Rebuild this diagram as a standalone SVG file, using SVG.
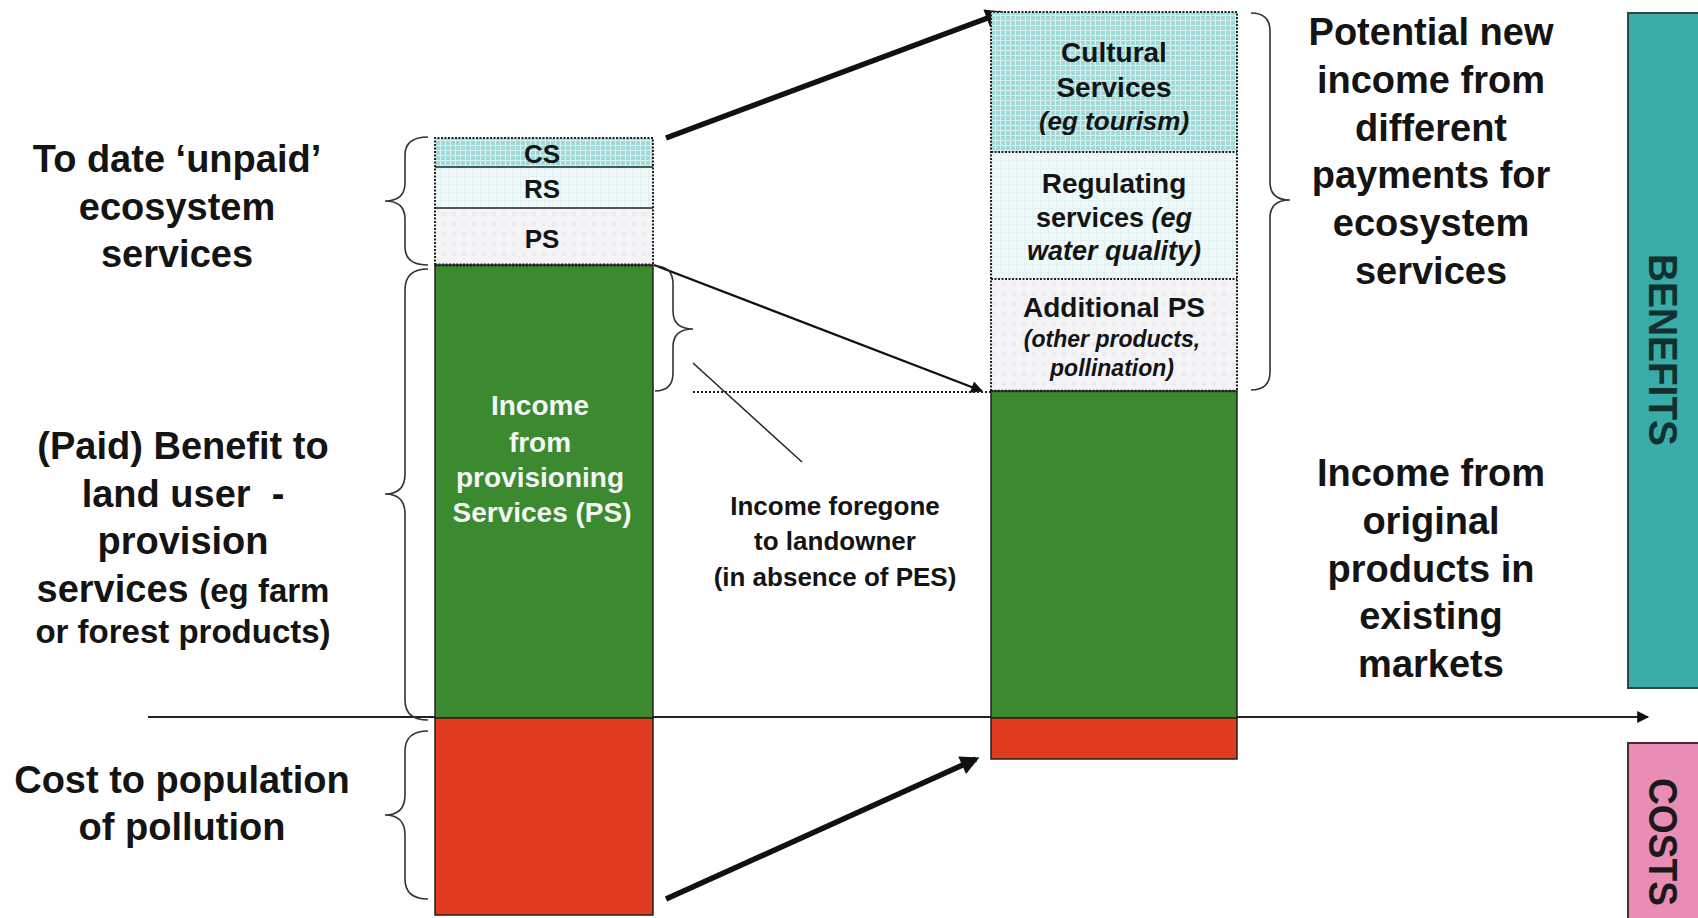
<svg xmlns="http://www.w3.org/2000/svg" width="1698" height="918" viewBox="0 0 1698 918">
<defs>
<style>
.t{font-family:"Liberation Sans",Arial,sans-serif;font-weight:bold;fill:#141414;text-anchor:middle}
.big{font-size:38px}
.mid{font-size:28px}
.it{font-style:italic}
.brace{fill:none;stroke:#333;stroke-width:1.6}
.dash{stroke:#222;stroke-width:2;stroke-dasharray:2 1.5}
.solid{stroke:#222;stroke-width:1.5}
</style>
<pattern id="pCS" width="5" height="5" patternUnits="userSpaceOnUse">
<rect width="5" height="5" fill="#9fd9d8"/>
<path d="M0 0.5H5M0.5 0V5" stroke="#d9f1f1" stroke-width="1"/>
</pattern>
<pattern id="pRS" width="8" height="8" patternUnits="userSpaceOnUse">
<rect width="8" height="8" fill="#f0f9f9"/>
<path d="M0 0.5H8M0.5 0V8" stroke="#e2f1f1" stroke-width="1"/>
</pattern>
<pattern id="pPS" width="10" height="10" patternUnits="userSpaceOnUse">
<rect width="10" height="10" fill="#f4f4f7"/>
<rect x="2" y="2" width="4" height="4" fill="#ebebf1"/>
</pattern>
<marker id="mThick" viewBox="0 0 10 10" markerWidth="26" markerHeight="19" refX="8" refY="5" orient="auto" markerUnits="userSpaceOnUse">
<path d="M0,0 L10,5 L0,10 z" fill="#111"/>
</marker>
<marker id="mThin" viewBox="0 0 10 10" markerWidth="18" markerHeight="12" refX="9" refY="5" orient="auto" markerUnits="userSpaceOnUse">
<path d="M0,0 L10,5 L0,10 z" fill="#111"/>
</marker>
</defs>
<rect width="1698" height="918" fill="#ffffff"/>

<g id="connectors">
<line x1="148" y1="717" x2="1648" y2="717" stroke="#222" stroke-width="2" marker-end="url(#mThin)"/>
<line x1="666" y1="138" x2="1001" y2="13" stroke="#111" stroke-width="5.5" marker-end="url(#mThick)"/>
<line x1="666" y1="899" x2="976" y2="759" stroke="#111" stroke-width="5.5" marker-end="url(#mThick)"/>
<line x1="654" y1="265" x2="982" y2="391" stroke="#111" stroke-width="2.2" marker-end="url(#mThin)"/>
<line x1="693" y1="392" x2="991" y2="392" stroke="#222" stroke-width="2" stroke-dasharray="2 2"/>
<line x1="693" y1="363" x2="802" y2="462" stroke="#222" stroke-width="1.5"/>
</g>

<g id="left-bar">
<rect x="435" y="138" width="218" height="29" fill="url(#pCS)"/>
<rect x="435" y="167" width="218" height="41" fill="url(#pRS)"/>
<rect x="435" y="208" width="218" height="57" fill="url(#pPS)"/>
<path d="M435 265V138H653V265" fill="none" class="dash"/>
<line x1="435" y1="167" x2="653" y2="167" class="solid" stroke-width="2"/>
<line x1="435" y1="208" x2="653" y2="208" class="solid"/>
<rect x="435" y="265" width="218" height="453" fill="#3b8a2f" stroke="#222" stroke-width="1.5"/>
<line x1="435" y1="265" x2="653" y2="265" stroke="#222" stroke-width="3" stroke-dasharray="2 1.5"/>
<rect x="435" y="718" width="218" height="197" fill="#e03b1e" stroke="#222" stroke-width="1.5"/>
<text class="t" x="542" y="163" font-size="26">CS</text>
<text class="t" x="542" y="198" font-size="26">RS</text>
<text class="t" x="542" y="248" font-size="26">PS</text>
<text class="t mid" x="540" y="415" style="fill:#f5f5f5">Income</text>
<text class="t mid" x="540" y="452" style="fill:#f5f5f5">from</text>
<text class="t mid" x="540" y="487" style="fill:#f5f5f5">provisioning</text>
<text class="t mid" x="542" y="522" style="fill:#f5f5f5">Services (PS)</text>
</g>

<g id="right-bar">
<rect x="991" y="12" width="246" height="140" fill="url(#pCS)"/>
<rect x="991" y="152" width="246" height="127" fill="url(#pRS)"/>
<rect x="991" y="279" width="246" height="112" fill="url(#pPS)"/>
<path d="M991 391V12H1237V391" fill="none" class="dash"/>
<line x1="991" y1="152" x2="1237" y2="152" class="dash"/>
<line x1="991" y1="279" x2="1237" y2="279" class="dash"/>
<rect x="991" y="391" width="246" height="327" fill="#3b8a2f" stroke="#222" stroke-width="1.5"/>
<line x1="991" y1="391" x2="1237" y2="391" stroke="#222" stroke-width="2.5" stroke-dasharray="2 1.5"/>
<rect x="991" y="718" width="246" height="41" fill="#e03b1e" stroke="#222" stroke-width="1.5"/>
<text class="t mid" x="1114" y="62">Cultural</text>
<text class="t mid" x="1114" y="97">Services</text>
<text class="t it" x="1114" y="130" font-size="26">(eg tourism)</text>
<text class="t mid" x="1114" y="193">Regulating</text>
<text class="t" x="1114" y="227" font-size="27">services <tspan class="it">(eg</tspan></text>
<text class="t it" x="1114" y="260" font-size="27">water quality)</text>
<text class="t mid" x="1114" y="317">Additional PS</text>
<text class="t it" x="1112" y="347" font-size="23">(other products,</text>
<text class="t it" x="1112" y="376" font-size="23">pollination)</text>
</g>

<g id="brace-unpaid">
<path class="brace" d="M428,137 Q405,137 405,155 V183 Q405,201 385,201 Q405,201 405,219 V247 Q405,265 428,265"/>
<text class="t big" x="177" y="172">To date ‘unpaid’</text>
<text class="t big" x="177" y="220">ecosystem</text>
<text class="t big" x="177" y="267">services</text>
</g>

<g id="brace-paid">
<path class="brace" d="M428,269 Q405,269 405,290 V474 Q405,494 385,494 Q405,494 405,514 V700 Q405,720 428,720"/>
<text class="t big" x="183" y="459">(Paid) Benefit to</text>
<text class="t big" x="183" y="507" xml:space="preserve">land user  -</text>
<text class="t big" x="183" y="554">provision</text>
<text class="t big" x="183" y="602">services <tspan font-size="33">(eg farm</tspan></text>
<text class="t" x="183" y="643" font-size="33">or forest products)</text>
</g>

<g id="brace-cost">
<path class="brace" d="M428,731 Q405,731 405,751 V795 Q405,815 385,815 Q405,815 405,835 V879 Q405,899 428,899"/>
<text class="t big" x="182" y="793">Cost to population</text>
<text class="t big" x="182" y="840">of pollution</text>
</g>

<g id="brace-foregone">
<path class="brace" d="M655,266 Q673,266 673,284 V311 Q673,329 693,329 Q673,329 673,347 V373 Q673,391 655,391"/>
<text class="t" x="835" y="515" font-size="26">Income foregone</text>
<text class="t" x="835" y="550" font-size="26">to landowner</text>
<text class="t" x="835" y="586" font-size="26">(in absence of PES)</text>
</g>

<g id="brace-potential">
<path class="brace" d="M1251,13 Q1270,13 1270,31 V182 Q1270,200 1290,200 Q1270,200 1270,218 V372 Q1270,390 1251,390"/>
<text class="t big" x="1431" y="45">Potential new</text>
<text class="t big" x="1431" y="93">income from</text>
<text class="t big" x="1431" y="141">different</text>
<text class="t big" x="1431" y="188">payments for</text>
<text class="t big" x="1431" y="236">ecosystem</text>
<text class="t big" x="1431" y="284">services</text>
</g>

<g id="original-income">
<text class="t big" x="1431" y="486">Income from</text>
<text class="t big" x="1431" y="534">original</text>
<text class="t big" x="1431" y="582">products in</text>
<text class="t big" x="1431" y="629">existing</text>
<text class="t big" x="1431" y="677">markets</text>
</g>

<g id="benefits">
<rect x="1628" y="13" width="72" height="675" fill="#3aaca8" stroke="#2a4a48" stroke-width="2"/>
<text class="t" transform="translate(1649,350) rotate(90)" font-size="40" textLength="192" lengthAdjust="spacingAndGlyphs" style="fill:#12302f">BENEFITS</text>
</g>

<g id="costs">
<rect x="1628" y="743" width="72" height="190" fill="#ea8db5" stroke="#4a2a38" stroke-width="2"/>
<text class="t" transform="translate(1649,778) rotate(90)" font-size="40" textLength="128" lengthAdjust="spacingAndGlyphs" style="text-anchor:start;fill:#1a1a1a">COSTS</text>
</g>
</svg>
